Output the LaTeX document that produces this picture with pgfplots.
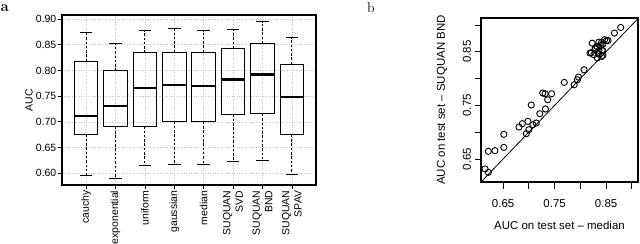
\documentclass[border=0pt]{standalone}
\usepackage{fontspec}
\setsansfont{Liberation Sans}
\usepackage{pgfplots}
\pgfplotsset{compat=1.18}
\usepgfplotslibrary{statistics}
\begin{document}
\begin{tikzpicture}[x=1bp,y=1bp]
\useasboundingbox (0,0) rectangle (640,243);
\node[anchor=base west, inner sep=0pt] at (0.5,232) {\fontsize{15}{17}\selectfont\bfseries a};
\node[anchor=base west, inner sep=0pt] at (367,231) {\fontsize{14}{16}\selectfont b};
% ---------------- panel a ----------------
\begin{axis}[
  at={(62bp,58bp)}, anchor=south west, scale only axis,
  width=254bp, height=170bp,
  xmin=0.18, xmax=8.82, ymin=0.5773, ymax=0.9078,
  axis line style={line width=1.1pt},
  xtick={1,2,3,4,5,6,7,8},
  xticklabels={cauchy,exponential,uniform,gaussian,median,{SUQUAN\\SVD},{SUQUAN\\BND},{SUQUAN\\SPAV}},
  ytick={0.60,0.65,0.70,0.75,0.80,0.85,0.90},
  xtick pos=bottom, ytick pos=left,
  tick align=outside, major tick length=4bp,
  tick style={black, line width=0.8pt},
  grid=major, major grid style={dotted, gray!45, line width=0.6pt},
  /pgf/number format/assume math mode=true,
  /pgf/number format/fixed, /pgf/number format/fixed zerofill, /pgf/number format/precision=2,
  yticklabel style={font=\sffamily\fontsize{10.5}{12}\selectfont, inner xsep=1.5bp},
  xticklabel style={font=\sffamily\fontsize{10.5}{12.5}\selectfont, rotate=90, anchor=east, align=right, inner xsep=1.5bp},
  ylabel={AUC},
  ylabel style={font=\sffamily\fontsize{10.5}{12}\selectfont, at={(axis description cs:-0.130,0.5)}, anchor=center},
  boxplot/draw direction=y,
  boxplot/every box/.style={line width=1pt},
  boxplot/every whisker/.style={line width=0.9pt, dash pattern=on 2.5bp off 1.8bp},
  boxplot/every median/.style={line width=2.3pt},
]
\addplot[black, boxplot prepared={draw position=1, median=0.7117, upper quartile=0.8179, lower quartile=0.6755, upper whisker=0.8736, lower whisker=0.5951, box extend=0.8, whisker extend=0}] coordinates {};
\addplot[black, boxplot prepared={draw position=2, median=0.7311, upper quartile=0.7990, lower quartile=0.6903, upper whisker=0.8522, lower whisker=0.5893, box extend=0.8, whisker extend=0}] coordinates {};
\addplot[black, boxplot prepared={draw position=3, median=0.7660, upper quartile=0.8340, lower quartile=0.6916, upper whisker=0.8767, lower whisker=0.6153, box extend=0.8, whisker extend=0}] coordinates {};
\addplot[black, boxplot prepared={draw position=4, median=0.7713, upper quartile=0.8353, lower quartile=0.7008, upper whisker=0.8825, lower whisker=0.6173, box extend=0.8, whisker extend=0}] coordinates {};
\addplot[black, boxplot prepared={draw position=5, median=0.7693, upper quartile=0.8353, lower quartile=0.7000, upper whisker=0.8775, lower whisker=0.6173, box extend=0.8, whisker extend=0}] coordinates {};
\addplot[black, boxplot prepared={draw position=6, median=0.7823, upper quartile=0.8425, lower quartile=0.7144, upper whisker=0.8800, lower whisker=0.6230, box extend=0.8, whisker extend=0}] coordinates {};
\addplot[black, boxplot prepared={draw position=7, median=0.7920, upper quartile=0.8522, lower quartile=0.7155, upper whisker=0.8950, lower whisker=0.6250, box extend=0.8, whisker extend=0}] coordinates {};
\addplot[black, boxplot prepared={draw position=8, median=0.7485, upper quartile=0.8120, lower quartile=0.6748, upper whisker=0.8639, lower whisker=0.5979, box extend=0.8, whisker extend=0}] coordinates {};
% whisker caps
\addplot[black, only marks, mark=-, mark size=6.3bp, mark options={line width=1pt}] coordinates {
(1,0.8736) (1,0.5951) (2,0.8522) (2,0.5893) (3,0.8767) (3,0.6153) (4,0.8825) (4,0.6173)
(5,0.8775) (5,0.6173) (6,0.8800) (6,0.6230) (7,0.8950) (7,0.6250) (8,0.8639) (8,0.5979)};
\end{axis}
% ---------------- panel b ----------------
\begin{axis}[
  at={(481bp,61bp)}, anchor=south west, scale only axis,
  width=157bp, height=164bp,
  xmin=0.607, xmax=0.912, ymin=0.607, ymax=0.913,
  axis line style={line width=1.2pt},
  xtick={0.65,0.7,0.75,0.8,0.85,0.9}, xticklabels={0.65,,0.75,,0.85,},
  ytick={0.65,0.7,0.75,0.8,0.85,0.9}, yticklabels={0.65,,0.75,,0.85,},
  xtick pos=bottom, ytick pos=left,
  tick align=outside, major tick length=6.5bp,
  tick style={black, line width=0.9pt},
  xticklabel style={font=\sffamily\fontsize{11.5}{13}\selectfont, yshift=-7bp},
  yticklabel style={font=\sffamily\fontsize{11.5}{13}\selectfont, rotate=90, anchor=south},
  xlabel={AUC on test set -- median},
  ylabel={AUC on test set -- SUQUAN BND},
  xlabel style={font=\sffamily\fontsize{11.5}{13}\selectfont, at={(axis description cs:0.5,-0.262)}, anchor=center},
  ylabel style={font=\sffamily\fontsize{11.5}{13}\selectfont, at={(axis description cs:-0.249,0.5)}, anchor=center},
  clip=true,
]
\addplot[black, line width=0.8pt] coordinates {(0.55,0.55) (0.95,0.95)};
\addplot[black, only marks, mark=o, mark size=3.1bp, mark options={line width=0.9pt}] coordinates {
(0.6148,0.6314) (0.6212,0.6250) (0.6212,0.6642) (0.6340,0.6655) (0.6513,0.6716) (0.6513,0.6959)
(0.6808,0.7096) (0.6873,0.7158) (0.6981,0.7201) (0.6950,0.6972) (0.7000,0.7046) (0.7077,0.7139)
(0.7142,0.7171) (0.7046,0.7506) (0.7212,0.7344) (0.7321,0.7432) (0.7365,0.7605) (0.7269,0.7730)
(0.7315,0.7717) (0.7442,0.7717) (0.7687,0.7928) (0.7879,0.7885) (0.7942,0.7978) (0.7962,0.8028)
(0.8071,0.8165) (0.8187,0.8476) (0.8212,0.8482) (0.8230,0.8660) (0.8263,0.8444) (0.8296,0.8550)
(0.8327,0.8383) (0.8360,0.8525) (0.8412,0.8412) (0.8423,0.8525) (0.8360,0.8680) (0.8412,0.8674)
(0.8437,0.8644) (0.8469,0.8724) (0.8508,0.8710) (0.8538,0.8710) (0.8398,0.8617) (0.8437,0.8519)
(0.8437,0.8431) (0.8354,0.8457) (0.8288,0.8569) (0.8321,0.8599) (0.8662,0.8849) (0.8783,0.8953)};
\end{axis}
\end{tikzpicture}
\end{document}
